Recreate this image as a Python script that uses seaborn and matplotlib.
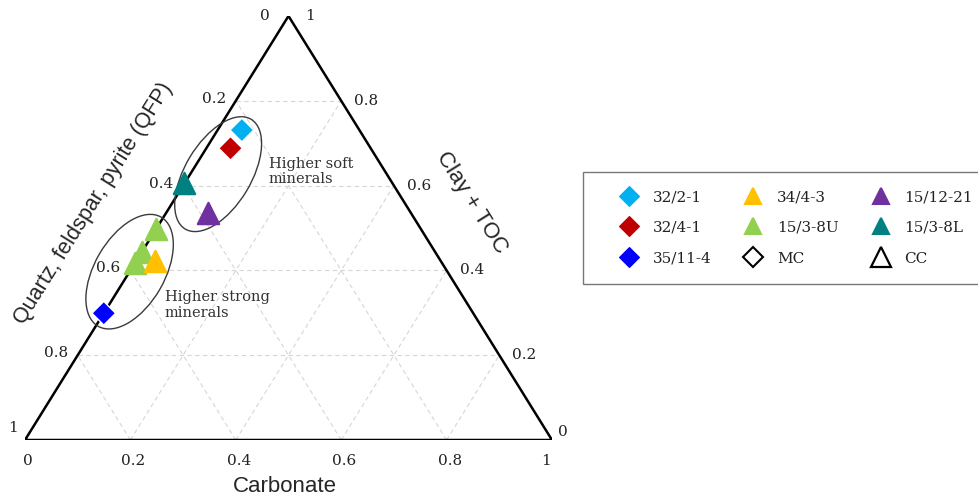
import matplotlib
matplotlib.use("Agg")
import matplotlib.pyplot as plt
from matplotlib.lines import Line2D
from matplotlib.patches import Ellipse
import numpy as np
import pandas as pd
import seaborn as sns

# ---- data: sample compositions (fractions) ----
wells = ["32/2-1", "32/4-1", "15/3-8L", "15/12-21",
         "15/3-8U", "15/3-8U", "15/3-8U", "34/4-3", "35/11-4"]
clay_type = ["MC", "MC", "CC", "CC", "CC", "CC", "CC", "CC", "MC"]
carbonate = [0.046, 0.046, 0.000, 0.079, 0.000, 0.000, 0.000, 0.036, 0.000]
clay_toc = [0.731, 0.688, 0.605, 0.536, 0.497, 0.443, 0.417, 0.422, 0.299]
qfp = [0.223, 0.266, 0.395, 0.385, 0.503, 0.557, 0.583, 0.542, 0.701]

well_colors = {
    "32/2-1": "#00B0F0", "32/4-1": "#C00000", "35/11-4": "#0000FF",
    "34/4-3": "#FFC000", "15/3-8U": "#92D050",
    "15/12-21": "#7030A0", "15/3-8L": "#008080",
}
legend_order = ["32/2-1", "32/4-1", "35/11-4",
                "34/4-3", "15/3-8U", "MC",
                "15/12-21", "15/3-8L", "CC"]
tick_values = [0, 0.2, 0.4, 0.6, 0.8, 1]
tick_labels = ["0", "0.2", "0.4", "0.6", "0.8", "1"]

sns.set_theme(style="white")
plt.rcParams["font.family"] = ["DejaVu Sans"]

W, H = 527.0, 424.0  # triangle base and height in drawing units


def to_xy(c, k):
    """Ternary (carbonate, clay+TOC) -> cartesian drawing units."""
    c = np.asarray(c, float)
    k = np.asarray(k, float)
    return W * (c + 0.5 * k), H * k


fig = plt.figure(figsize=(9.79, 5.0), dpi=100)
ax = fig.add_axes([25 / 979, 60 / 500, W / 979, H / 500])
ax.set_xlim(0, W)
ax.set_ylim(0, H)
ax.axis("off")

# grid lines
grid_kw = dict(color="#d6d6d6", lw=0.8, ls=(0, (4, 3)), zorder=1)
for v in [0.2, 0.4, 0.6, 0.8]:
    x, y = to_xy([0, 1 - v], [v, v])          # constant clay+TOC
    ax.plot(x, y, **grid_kw)
    x, y = to_xy([v, v], [0, 1 - v])          # constant carbonate
    ax.plot(x, y, **grid_kw)
    x, y = to_xy([1 - v, 0], [0, 1 - v])      # constant QFP
    ax.plot(x, y, **grid_kw)

# triangle frame
x, y = to_xy([0, 1, 0, 0], [0, 0, 1, 0])
ax.plot(x, y, color="black", lw=1.8, zorder=2, solid_joinstyle="miter")

# sample points
tot = np.array(carbonate) + np.array(clay_toc) + np.array(qfp)
px, py = to_xy(np.array(carbonate) / tot, np.array(clay_toc) / tot)
df = pd.DataFrame({"x": px, "y": py, "well": wells, "type": clay_type})
palette = dict(well_colors)
sub = df[df["type"] == "MC"]
sns.scatterplot(data=sub, x="x", y="y", hue="well", palette=palette,
                marker="D", s=145, linewidth=1, legend=False, ax=ax,
                zorder=4, clip_on=False)
for _, r in df[df["type"] == "CC"].iterrows():
    col = palette[r["well"]]
    sns.scatterplot(x=[r["x"]], y=[r["y"]], color=col, marker="^", s=235,
                    edgecolor=col, linewidth=1.6, joinstyle="round",
                    legend=False, ax=ax, zorder=4, clip_on=False)

# grouping ellipses and notes
for (c, k), wd, ht, ang in [((0.053, 0.627), 128, 66, 59),
                            ((0.0, 0.397), 126, 70, 60)]:
    cx, cy = to_xy(c, k)
    ax.add_patch(Ellipse((cx, cy), wd, ht, angle=ang, fill=False,
                         ec="#3a3a3a", lw=1.0, zorder=3))
serif = "DejaVu Serif"
ax.text(244, 268.5, "Higher soft\nminerals", family=serif, fontsize=10.5,
        color="#333333", ha="left", va="center", linespacing=1.15)
ax.text(140, 135, "Higher strong\nminerals", family=serif, fontsize=10.5,
        color="#333333", ha="left", va="center", linespacing=1.15)

# tick labels
tk = dict(family=serif, fontsize=11, color="#222222",
          textcoords="offset pixels", annotation_clip=False)
for v, lab in zip(tick_values, tick_labels):
    # bottom: carbonate
    ax.annotate(lab, to_xy(v, 0), xytext=(3 if v < 1 else -6, -21),
                ha="center", va="center", **tk)
    # left: QFP (clay+TOC = 1 - v on the left edge)
    off = (-10, 2)
    if v == 0:
        off = (-19, 0)
    elif v == 1:
        off = (-7, 12)
    ax.annotate(lab, to_xy(0, 1 - v), xytext=off, ha="right", va="center", **tk)
    # right: clay + TOC
    off = (13, 0)
    if v == 1:
        off = (17, 0)
    elif v == 0:
        off = (6, 8)
    ax.annotate(lab, to_xy(1 - v, v), xytext=off, ha="left", va="center", **tk)

# axis titles
sans = "Liberation Sans"
fig.text(284.5 / 979, 1 - 486 / 500, "Carbonate", family=sans, fontsize=16,
         ha="center", va="center")
fig.text(472 / 979, 1 - 203 / 500, "Clay + TOC", family=sans, fontsize=16,
         ha="center", va="center", rotation=-58, rotation_mode="anchor")
fig.text(93 / 979, 1 - 203 / 500, "Quartz, feldspar, pyrite (QFP)",
         family=sans, fontsize=15.5, ha="center", va="center", rotation=58,
         rotation_mode="anchor")

# legend
handles = []
for name in legend_order:
    if name == "MC":
        h = Line2D([], [], ls="none", marker="D", ms=10, mfc="none",
                   mec="black", mew=1.5)
    elif name == "CC":
        h = Line2D([], [], ls="none", marker="^", ms=14, mfc="none",
                   mec="black", mew=1.6)
    elif name in ("32/2-1", "32/4-1", "35/11-4"):
        h = Line2D([], [], ls="none", marker="D", ms=10, mfc=well_colors[name],
                   mec=well_colors[name], mew=0.8)
    else:
        h = Line2D([], [], ls="none", marker="^", ms=12, mfc=well_colors[name],
                   mec=well_colors[name], mew=1.5, solid_joinstyle="round")
    handles.append(h)
leg = fig.legend(handles, legend_order, ncol=3, loc="upper left",
                 bbox_to_anchor=(583 / 979, 1 - 171.7 / 500),
                 prop={"family": serif, "size": 11}, frameon=True,
                 fancybox=False, borderpad=1.2, labelspacing=1.1,
                 handlelength=3.6, handletextpad=-0.25, columnspacing=0.95,
                 borderaxespad=0)
leg.get_frame().set_edgecolor("#555555")
leg.get_frame().set_linewidth(1.0)
for t in leg.get_texts():
    t.set_color("#222222")

fig.savefig("out.png", dpi=100)
